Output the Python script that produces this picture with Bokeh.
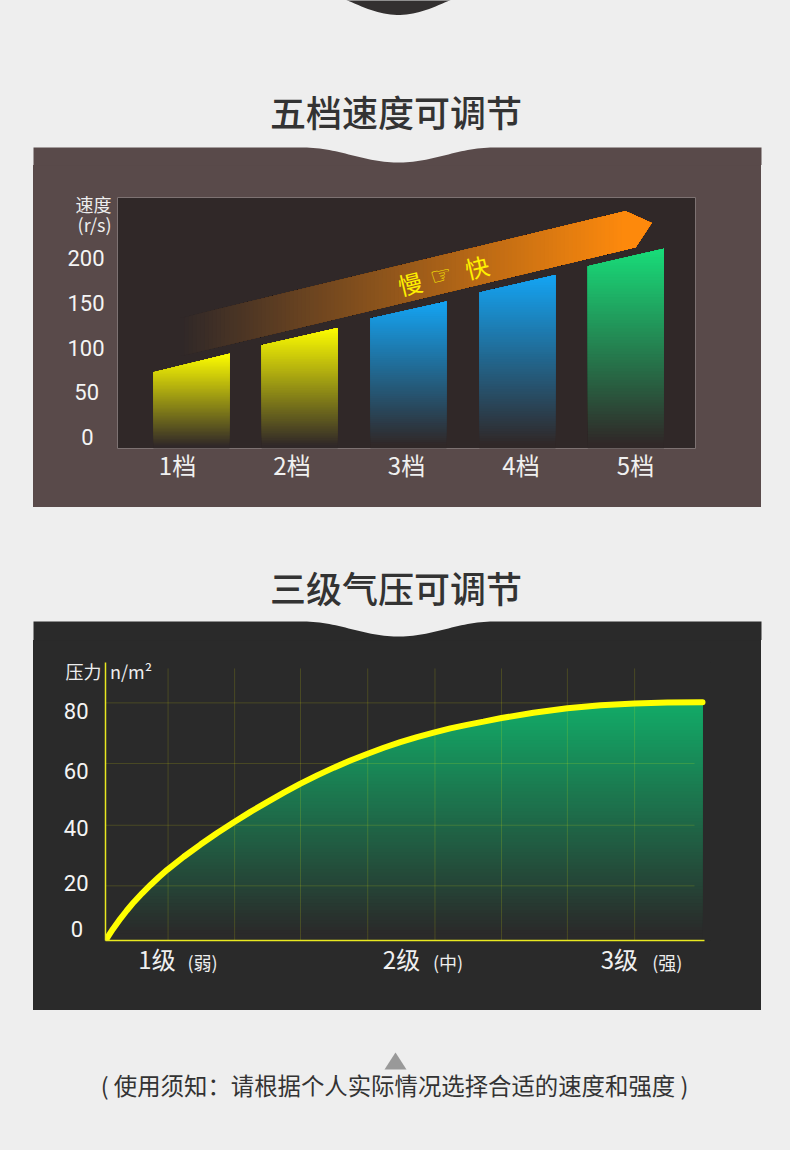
import numpy as np
from bokeh.plotting import figure
from bokeh.layouts import column, row
from bokeh.models import FixedTicker, LinearAxis, Spacer
from bokeh.core.properties import value
from bokeh.embed import file_html
from bokeh.resources import INLINE

# ---------- data ----------
titles = ["五档速度可调节", "三级气压可调节"]
note = "( 使用须知：请根据个人实际情况选择合适的速度和强度 )"

gears = ["1档", "2档", "3档", "4档", "5档"]
gear_ticks = [1, 2, 3, 4, 5]
bar_pos = [1.122, 2.067, 3.017, 3.969, 4.916]
speed_left = [73, 103, 133, 162, 191.5]
speed_right = [93.5, 122.5, 152, 181.5, 211]
speed_ticks = [0, 50, 100, 150, 200]
speed_unit_at = {261.4: "速度", 239.1: "(r/s)"}
bar_colors = [(255, 255, 0), (255, 255, 0), (20, 165, 245), (20, 165, 245), (24, 222, 122)]

levels = ["1级", "2级", "3级"]
level_ticks = [0.774, 4.447, 7.72]
level_notes = ["(弱)", "(中)", "(强)"]
level_note_at = [1.457, 5.146, 8.44]
pressure_labels = ["0", "20", "40", "60", "80"]
pressure_label_at = [3.7, 19.2, 37.7, 56.9, 77.0]
pressure_name_at = {90.6: "压力"}
grid_y = [18.4, 38.8, 59.6, 80.0]
grid_x = [0.94, 1.94, 2.93, 3.94, 4.95, 5.95, 6.94, 7.95]
curve_x = [0, .11, .225, .32, .425, .55, .676, .8, .927, 1.176, 1.427, 1.678, 1.928, 2.178, 2.429, 2.679, 2.93, 3.18, 3.43, 3.68,
           3.93, 4.18, 4.43, 4.68, 4.93, 5.18, 5.43, 5.68, 5.95, 6.43, 6.94, 7.44, 7.95, 8.44, 8.97]
curve_y = [0, 3.8, 7.4, 10.1, 12.9, 15.9, 18.7, 21.3, 23.8, 28.2, 32.3, 36.2, 39.8, 43.3, 46.6, 49.8, 52.8, 55.6, 58.2, 60.6,
           62.8, 64.9, 66.8, 68.5, 70.0, 71.4, 72.6, 73.7, 74.9, 76.7, 78.2, 79.2, 79.8, 80.1, 80.2]

# ---------- style ----------
BG = "#eeeeee"
BROWN = "#594a4a"
FRAME = (48, 40, 40)
DARK = "#2a2a2a"
CJK = "Noto Sans CJK SC"
NUM = "Roboto"
W = 790
OVER = 2  # rows of a flat figure hidden under the chart that follows


def hexc(c):
    return "#%02x%02x%02x" % tuple(int(round(v)) for v in c)


def mix(a, b, t):
    return tuple(a[i] + (b[i] - a[i]) * t for i in range(3))


def clip(poly, axis, level):
    out = []
    n = len(poly)
    for i in range(n):
        p, q = poly[i], poly[(i + 1) % n]
        pin, qin = p[axis] >= level, q[axis] >= level
        if pin:
            out.append(p)
        if pin != qin:
            t = (level - p[axis]) / (q[axis] - p[axis])
            out.append((p[0] + (q[0] - p[0]) * t, p[1] + (q[1] - p[1]) * t))
    return out


def gradient(fig, poly, axis, low, high, color_at, steps=70):
    xs, ys, cs = [], [], []
    for k in range(steps):
        t = k / steps
        part = clip(poly, axis, low + (high - low) * t)
        if len(part) < 3:
            continue
        xs.append([a for a, _ in part])
        ys.append([b for _, b in part])
        cs.append(hexc(color_at(t)))
    fig.patches(xs, ys, fill_color=cs, line_color=None)


def wave(top, depth, x0=303, x1=493):
    xs = np.linspace(x0, x1, 60)
    ys = top + depth * (1 - np.cos(2 * np.pi * (xs - x0) / (x1 - x0))) / 2
    return list(xs), list(ys)


def flat(y0, y1):
    f = figure(width=W, height=y1 - y0, x_range=(0, W), y_range=(y1, y0),
               toolbar_location=None, output_backend="svg", min_border=0,
               x_axis_location=None, y_axis_location=None,
               background_fill_color=BG, border_fill_color=BG, outline_line_color=None,
               styles={"background-color": BG})
    f.grid.visible = False
    return f


def side(w, h):
    return Spacer(width=w, height=h, styles={"background-color": BG})


def caption(f, text, y):
    f.text([395.5], [y], text=[text], text_font=value("Noto Sans CJK SC Medium"), text_font_size="36px",
           text_color="#333333", text_align="center", text_baseline="middle")


def panel_top(f, top, bottom, color):
    wx, wy = wave(top, 15)
    f.varea(x=[33] + wx + [761], y1=[top] + wy + [top], y2=[bottom + 1] * (len(wx) + 2),
            fill_color=color)


def plain(axis, font, size, color, standoff):
    axis.axis_line_color = None
    axis.major_tick_line_color = None
    axis.minor_tick_line_color = None
    axis.major_label_text_font = font
    axis.major_label_text_font_size = size
    axis.major_label_text_color = color
    axis.major_label_standoff = standoff


# ---------- header ----------
head = flat(0, 165 + OVER)
hx, hy = wave(-11.5, 26)
head.varea(x=hx, y1=hy, y2=[-12] * len(hx), fill_color="#333030")
caption(head, titles[0], 110)
panel_top(head, 147, 165 + OVER, BROWN)

# ---------- chart 1 ----------
c1 = figure(width=728, height=342, x_range=(0.476, 5.524), y_range=(-12.3, 268.2),
            toolbar_location=None, output_backend="svg",
            min_border_left=84, min_border_right=66, min_border_top=32, min_border_bottom=59,
            background_fill_color=hexc(FRAME), border_fill_color=BROWN,
            outline_line_color="#7d7272", outline_line_width=1,
            styles={"background-color": BROWN})
c1.grid.visible = False


def px1(x, y):
    return ((x - 177) / 114.5 + 1, (437 - y) / 0.895)


arrow = [px1(*q) for q in [(180, 317.6), (625, 210.7), (651, 222.5), (635, 246.7), (180, 355.6)]]
orange = (255, 138, 12)
gradient(c1, arrow, 0, px1(180, 0)[0], px1(625, 0)[0], lambda t: mix(FRAME, orange, t), steps=110)

bar_w = 0.664
base = -12.3
for pos, yl, yr, col in zip(bar_pos, speed_left, speed_right, bar_colors):
    shape = [(pos - bar_w / 2, base), (pos + bar_w / 2, base), (pos + bar_w / 2, yr), (pos - bar_w / 2, yl)]
    gradient(c1, shape, 1, base, yr, lambda t, col=col: mix(FRAME, col, max(0.0, (t - 0.02) / 0.98)))

tx, ty = px1(409.5, 282.5), px1(440.5, 275)
tz = px1(476.5, 266)
c1.text([tx[0], tz[0]], [tx[1], tz[1]], text=["慢", "快"], angle=13.5, angle_units="deg",
        text_font=value(CJK), text_font_size="24px", text_color="#fff000",
        text_align="center", text_baseline="middle")
c1.text([ty[0]], [ty[1]], text=["☞"], angle=13.5, angle_units="deg",
        text_font=value("DejaVu Sans"), text_font_size="24px", text_color="#fff000",
        text_align="center", text_baseline="middle")

c1.xaxis.ticker = FixedTicker(ticks=gear_ticks)
c1.xaxis.major_label_overrides = dict(zip(gear_ticks, gears))
plain(c1.xaxis[0], CJK, "24px", "#f0f0f0", -8)

c1.yaxis.ticker = FixedTicker(ticks=speed_ticks)
c1.yaxis.major_label_overrides = {0: "0\u00a0\u00a0", 50: "50\u00a0"}
plain(c1.yaxis[0], NUM, "22px", "#f4f4f4", 7)

unit1 = LinearAxis(ticker=FixedTicker(ticks=list(speed_unit_at)), major_label_overrides=speed_unit_at)
plain(unit1, CJK, "18px", "#eeeeee", -53)
c1.add_layout(unit1, "left")

row1 = row(side(33, 342), c1, side(29, 342), margin=(-OVER, 0, 0, 0))

# ---------- middle ----------
mid = flat(507, 640 + OVER)
caption(mid, titles[1], 586)
panel_top(mid, 621, 640 + OVER, DARK)

# ---------- chart 2 ----------
c2 = figure(width=728, height=370, x_range=(0, 9.09), y_range=(0, 93.6),
            toolbar_location=None, output_backend="svg",
            min_border_left=72, min_border_right=51, min_border_top=22, min_border_bottom=70,
            background_fill_color=DARK, border_fill_color=DARK, outline_line_color=None,
            styles={"background-color": DARK})
c2.grid.visible = False

area = [(0, 0)] + list(zip(curve_x, curve_y)) + [(curve_x[-1], 0)]
green = (18, 172, 104)
gradient(c2, area, 1, 0, 80, lambda t: mix((42, 42, 42), green, max(0.0, (t - 0.03) / 0.97)))

c2.segment(x0=[0] * len(grid_y), x1=[8.85] * len(grid_y), y0=grid_y, y1=grid_y,
           line_color="#ffff00", line_alpha=0.15, line_width=1)
c2.segment(x0=grid_x, x1=grid_x, y0=[0] * len(grid_x), y1=[91.6] * len(grid_x),
           line_color="#ffff00", line_alpha=0.15, line_width=1)
c2.line(curve_x, curve_y, line_color="#ffff00", line_width=6, line_cap="round")
c2.text([0.383], [90.6], text=["n/m²"], text_font=value(CJK), text_font_size="18px",
        text_color="#eeeeee", text_align="center", text_baseline="middle")

c2.xaxis.ticker = FixedTicker(ticks=level_ticks)
c2.xaxis.major_label_overrides = dict(zip(level_ticks, levels))
c2.xaxis.bounds = (0, 9)
plain(c2.xaxis[0], CJK, "24px", "#f0f0f0", -6)
c2.xaxis.axis_line_color = "#e8e820"
c2.xaxis.axis_line_width = 1.5

c2.yaxis.ticker = FixedTicker(ticks=pressure_label_at)
pad = {"0": "0\u00a0"}
c2.yaxis.major_label_overrides = {k: pad.get(v, v) for k, v in zip(pressure_label_at, pressure_labels)}
plain(c2.yaxis[0], NUM, "22px", "#f4f4f4", 11)
c2.yaxis.axis_line_color = "#e8e820"
c2.yaxis.axis_line_width = 1.5

notes_axis = LinearAxis(ticker=FixedTicker(ticks=level_note_at),
                        major_label_overrides=dict(zip(level_note_at, level_notes)))
plain(notes_axis, CJK, "18px", "#eeeeee", -36)
c2.add_layout(notes_axis, "below")

name_axis = LinearAxis(ticker=FixedTicker(ticks=list(pressure_name_at)), major_label_overrides=pressure_name_at)
plain(name_axis, CJK, "18px", "#eeeeee", -47)
c2.add_layout(name_axis, "left")

row2 = row(side(33, 370), c2, side(29, 370), margin=(-OVER, 0, 0, 0))

# ---------- footer ----------
foot = flat(1010, 1150)
foot.patch([384, 395, 406], [1069, 1052, 1069], fill_color="#999999", line_color=None)
foot.text([394], [1084], text=[note], text_font=value(CJK), text_font_size="23.4px",
          text_color="#333333", text_align="center", text_baseline="middle")

page = column(head, row1, mid, row2, foot, spacing=0,
              styles={"position": "fixed", "left": "0px", "top": "0px"})
open("out.html", "w").write(file_html(page, INLINE))
